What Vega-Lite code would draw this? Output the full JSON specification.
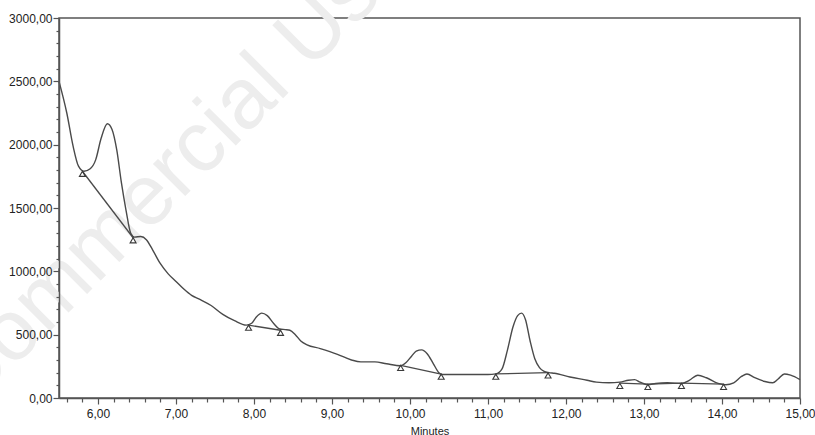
{
  "$schema": "https://vega.github.io/schema/vega-lite/v6.json",
  "width": 741,
  "height": 380,
  "autosize": {"type": "none"},
  "padding": {"left": 59, "top": 18, "right": 15, "bottom": 37},
  "background": "white",
  "config": {
    "view": {"stroke": "#555555", "strokeWidth": 1.5},
    "axis": {
      "domainColor": "#555555",
      "domainWidth": 1.5,
      "tickColor": "#555555",
      "tickWidth": 1.2,
      "grid": false,
      "labelFont": "Liberation Sans",
      "labelFontSize": 12,
      "labelColor": "#222222",
      "titleFont": "Liberation Sans",
      "titleFontSize": 11,
      "titleFontWeight": "normal",
      "titleColor": "#222222"
    }
  },
  "datasets": {
    "trace": [
      {"x": 5.5, "y": 2500}, {"x": 5.6, "y": 2250}, {"x": 5.68, "y": 1990}, {"x": 5.75, "y": 1830},
      {"x": 5.82, "y": 1790}, {"x": 5.9, "y": 1810}, {"x": 5.97, "y": 1880}, {"x": 6.04, "y": 2050},
      {"x": 6.12, "y": 2165}, {"x": 6.18, "y": 2120}, {"x": 6.24, "y": 1960}, {"x": 6.3, "y": 1700},
      {"x": 6.36, "y": 1480}, {"x": 6.42, "y": 1300}, {"x": 6.47, "y": 1270}, {"x": 6.55, "y": 1275},
      {"x": 6.62, "y": 1250}, {"x": 6.7, "y": 1170}, {"x": 6.8, "y": 1060}, {"x": 6.9, "y": 980},
      {"x": 7.0, "y": 920}, {"x": 7.1, "y": 860}, {"x": 7.2, "y": 810}, {"x": 7.3, "y": 780},
      {"x": 7.45, "y": 730}, {"x": 7.6, "y": 660}, {"x": 7.75, "y": 610}, {"x": 7.9, "y": 575},
      {"x": 7.97, "y": 590}, {"x": 8.03, "y": 640}, {"x": 8.1, "y": 670}, {"x": 8.17, "y": 650},
      {"x": 8.25, "y": 590}, {"x": 8.33, "y": 545}, {"x": 8.4, "y": 540}, {"x": 8.46, "y": 535},
      {"x": 8.53, "y": 500}, {"x": 8.6, "y": 450}, {"x": 8.68, "y": 420}, {"x": 8.85, "y": 390},
      {"x": 9.07, "y": 345}, {"x": 9.25, "y": 300}, {"x": 9.37, "y": 285}, {"x": 9.55, "y": 285},
      {"x": 9.7, "y": 270}, {"x": 9.88, "y": 255}, {"x": 9.95, "y": 280}, {"x": 10.02, "y": 330},
      {"x": 10.08, "y": 370}, {"x": 10.15, "y": 380}, {"x": 10.22, "y": 350}, {"x": 10.3, "y": 270},
      {"x": 10.37, "y": 200}, {"x": 10.42, "y": 185}, {"x": 10.55, "y": 185}, {"x": 10.8, "y": 185},
      {"x": 11.0, "y": 185}, {"x": 11.1, "y": 190}, {"x": 11.18, "y": 230}, {"x": 11.25, "y": 380},
      {"x": 11.32, "y": 560}, {"x": 11.38, "y": 650}, {"x": 11.43, "y": 670}, {"x": 11.48, "y": 620},
      {"x": 11.54, "y": 450}, {"x": 11.6, "y": 310}, {"x": 11.66, "y": 240}, {"x": 11.72, "y": 210},
      {"x": 11.78, "y": 200}, {"x": 11.85, "y": 195}, {"x": 12.05, "y": 166}, {"x": 12.27, "y": 140},
      {"x": 12.39, "y": 125}, {"x": 12.55, "y": 120}, {"x": 12.69, "y": 125}, {"x": 12.8, "y": 140},
      {"x": 12.88, "y": 145}, {"x": 12.95, "y": 125}, {"x": 13.05, "y": 105}, {"x": 13.15, "y": 115},
      {"x": 13.3, "y": 120}, {"x": 13.48, "y": 115}, {"x": 13.58, "y": 140}, {"x": 13.69, "y": 180},
      {"x": 13.8, "y": 160}, {"x": 13.95, "y": 115}, {"x": 14.05, "y": 105}, {"x": 14.15, "y": 120},
      {"x": 14.25, "y": 170}, {"x": 14.32, "y": 190}, {"x": 14.42, "y": 160}, {"x": 14.55, "y": 130},
      {"x": 14.65, "y": 120}, {"x": 14.72, "y": 150}, {"x": 14.8, "y": 190}, {"x": 14.88, "y": 180},
      {"x": 15.0, "y": 145}
    ],
    "baseline": [
      {"seg": "B1", "x": 5.8, "y": 1790}, {"seg": "B1", "x": 6.45, "y": 1265},
      {"seg": "B2", "x": 7.93, "y": 575}, {"seg": "B2", "x": 8.34, "y": 535},
      {"seg": "B3", "x": 9.88, "y": 258}, {"seg": "B3", "x": 10.4, "y": 188},
      {"seg": "B4", "x": 11.1, "y": 190}, {"seg": "B4", "x": 11.77, "y": 200},
      {"seg": "B5", "x": 12.69, "y": 118}, {"seg": "B5", "x": 13.05, "y": 110},
      {"seg": "B6", "x": 13.05, "y": 110}, {"seg": "B6", "x": 13.48, "y": 118},
      {"seg": "B7", "x": 13.48, "y": 118}, {"seg": "B7", "x": 14.02, "y": 110}
    ],
    "marks": [
      {"x": 5.8, "y": 1770}, {"x": 6.45, "y": 1245}, {"x": 7.93, "y": 555}, {"x": 8.34, "y": 515},
      {"x": 9.88, "y": 238}, {"x": 10.4, "y": 168}, {"x": 11.1, "y": 168}, {"x": 11.77, "y": 178},
      {"x": 12.69, "y": 96}, {"x": 13.05, "y": 88}, {"x": 13.48, "y": 96}, {"x": 14.02, "y": 88}
    ],
    "watermark": [
      {"x": 6.98, "y": 1800, "text": "Commercial Use"}
    ]
  },
  "resolve": {"axis": {"x": "independent", "y": "independent"}},
  "layer": [
    {
      "data": {"name": "watermark"},
      "mark": {"type": "text", "angle": -45, "fontSize": 86, "font": "Liberation Sans", "color": "#ededed", "align": "center", "baseline": "middle"},
      "encoding": {
        "x": {"field": "x", "type": "quantitative", "axis": null},
        "y": {"field": "y", "type": "quantitative", "axis": null},
        "text": {"field": "text"}
      }
    },
    {
      "data": {"name": "trace"},
      "mark": {"type": "line", "interpolate": "monotone", "color": "#4a4a4a", "strokeWidth": 1.4},
      "encoding": {
        "x": {
          "field": "x", "type": "quantitative",
          "scale": {"domain": [5.5, 15], "nice": false, "zero": false},
          "axis": {
            "orient": "bottom", "title": "Minutes", "values": [6, 7, 8, 9, 10, 11, 12, 13, 14, 15],
            "labelExpr": "replace(format(datum.value, '.2f'), '.', ',')",
            "tickSize": 6, "labelPadding": 4, "titlePadding": 6, "labelFlush": false, "zindex": 2
          }
        },
        "y": {
          "field": "y", "type": "quantitative",
          "scale": {"domain": [0, 3000], "nice": false},
          "axis": {
            "orient": "left", "title": null, "values": [0, 500, 1000, 1500, 2000, 2500, 3000],
            "labelExpr": "replace(format(datum.value, '.2f'), '.', ',')",
            "tickSize": 6, "labelPadding": 1, "labelFlush": false, "zindex": 2
          }
        }
      }
    },
    {
      "data": {"name": "baseline"},
      "mark": {"type": "line", "color": "#4a4a4a", "strokeWidth": 1.3},
      "encoding": {
        "detail": {"field": "seg"},
        "x": {
          "field": "x", "type": "quantitative",
          "axis": {
            "orient": "bottom", "title": null, "labels": false, "domain": false, "tickSize": 4, "zindex": 2,
            "values": [5.6, 5.8, 6.2, 6.4, 6.6, 6.8, 7.2, 7.4, 7.6, 7.8, 8.2, 8.4, 8.6, 8.8, 9.2, 9.4, 9.6, 9.8, 10.2, 10.4, 10.6, 10.8, 11.2, 11.4, 11.6, 11.8, 12.2, 12.4, 12.6, 12.8, 13.2, 13.4, 13.6, 13.8, 14.2, 14.4, 14.6, 14.8]
          }
        },
        "y": {
          "field": "y", "type": "quantitative",
          "axis": {
            "orient": "left", "title": null, "labels": false, "domain": false, "tickSize": 3, "zindex": 2,
            "values": [100, 200, 300, 400, 600, 700, 800, 900, 1100, 1200, 1300, 1400, 1600, 1700, 1800, 1900, 2100, 2200, 2300, 2400, 2600, 2700, 2800, 2900]
          }
        }
      }
    },
    {
      "data": {"name": "marks"},
      "mark": {"type": "point", "shape": "triangle-up", "size": 36, "filled": false, "color": "#3a3a3a", "strokeWidth": 1.1, "opacity": 1},
      "encoding": {
        "x": {"field": "x", "type": "quantitative", "axis": null},
        "y": {"field": "y", "type": "quantitative", "axis": null}
      }
    }
  ]
}
